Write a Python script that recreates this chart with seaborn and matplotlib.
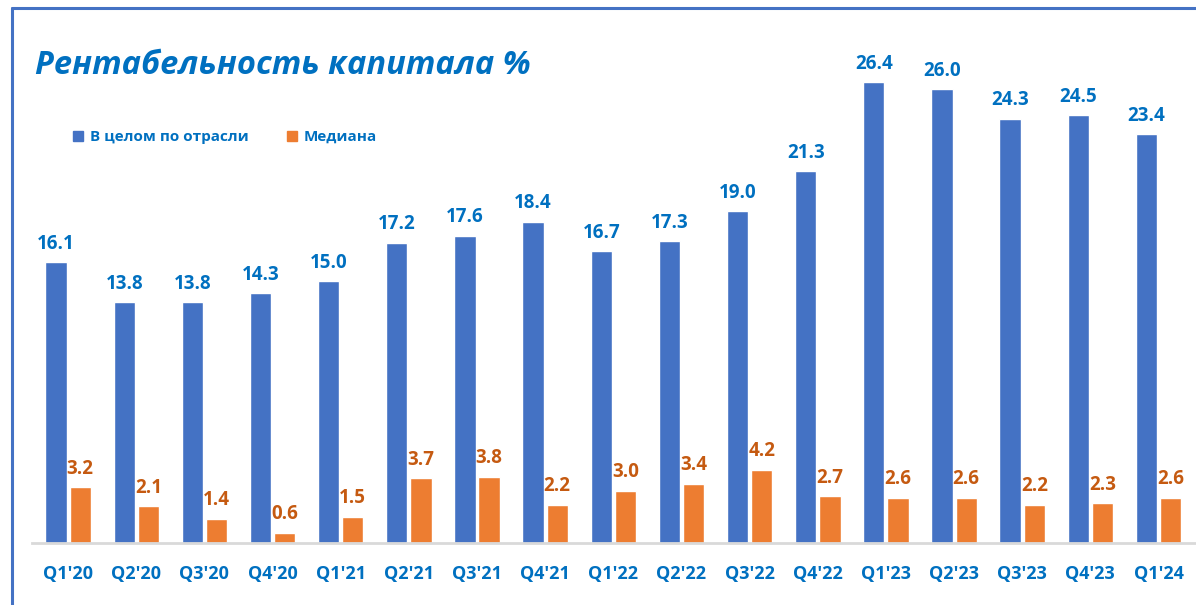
import pandas as pd
import numpy as np
import seaborn as sns
import matplotlib.pyplot as plt
from matplotlib.lines import Line2D

# данные
quarters = ["Q1'20", "Q2'20", "Q3'20", "Q4'20", "Q1'21", "Q2'21", "Q3'21", "Q4'21",
            "Q1'22", "Q2'22", "Q3'22", "Q4'22", "Q1'23", "Q2'23", "Q3'23", "Q4'23", "Q1'24"]
total = [16.1, 13.8, 13.8, 14.3, 15.0, 17.2, 17.6, 18.4,
         16.7, 17.3, 19.0, 21.3, 26.4, 26.0, 24.3, 24.5, 23.4]
median = [3.2, 2.1, 1.4, 0.6, 1.5, 3.7, 3.8, 2.2,
          3.0, 3.4, 4.2, 2.7, 2.6, 2.6, 2.2, 2.3, 2.6]
series = ["В целом по отрасли", "Медиана"]

df = pd.DataFrame({"Квартал": quarters * 2,
                   "Значение": total + median,
                   "Серия": [series[0]] * len(quarters) + [series[1]] * len(quarters)})

blue = "#4472C4"
orange = "#ED7D31"
txt_blue = "#0070C0"
txt_orange = "#C55A11"

sns.set_style("white")
plt.rcParams['font.family'] = ['Open Sans', 'DejaVu Sans']

fig = plt.figure(figsize=(11.96, 6.05), dpi=100)
ax = fig.add_axes([32/1196, 62/605, 1 - 32/1196, 0.86])

sns.barplot(data=df, x="Квартал", y="Значение", hue="Серия", saturation=1,
            palette=[blue, orange], width=0.71, gap=0.12, ax=ax, legend=False)

for cont, col in zip(ax.containers, [txt_blue, txt_orange]):
    ax.bar_label(cont, fmt="%.1f", padding=6, color=col,
                 fontsize=13.5, fontweight="bold")

ax.set_ylim(0, 29.8)
ax.set_xlim(-0.53, 16.55)
ax.set_xlabel("")
ax.set_ylabel("")
ax.set_yticks([])
for s in ["top", "right", "left"]:
    ax.spines[s].set_visible(False)
ax.spines["bottom"].set_color("#D9D9D9")
ax.spines["bottom"].set_linewidth(2)
ax.tick_params(axis="x", length=0, pad=16, labelsize=13, labelcolor=txt_blue)
for t in ax.get_xticklabels():
    t.set_fontweight("bold")

# заголовок и легенда
fig.text(35/1196, 1 - 65/605, "Рентабельность капитала %", fontsize=23.5,
         fontweight="bold", fontstyle="italic", color=txt_blue, va="center")
handles = [Line2D([], [], marker="s", linestyle="", markersize=7.5, color=c) for c in [blue, orange]]
leg = fig.legend(handles, series, loc="center left", bbox_to_anchor=(58/1196, 1 - 137/605),
                 ncol=2, frameon=False, columnspacing=2.4, handlelength=0.8, handletextpad=0.4,
                 prop={"size": 11, "weight": "bold"})
for t in leg.get_texts():
    t.set_color(txt_blue)

# рамка
fig.add_artist(Line2D([12/1196, 12/1196], [0, 1 - 8/605], color=blue, lw=2.2, transform=fig.transFigure))
fig.add_artist(Line2D([12/1196, 1], [1 - 8/605, 1 - 8/605], color=blue, lw=2.2, transform=fig.transFigure))

fig.savefig("out.png", dpi=100)
